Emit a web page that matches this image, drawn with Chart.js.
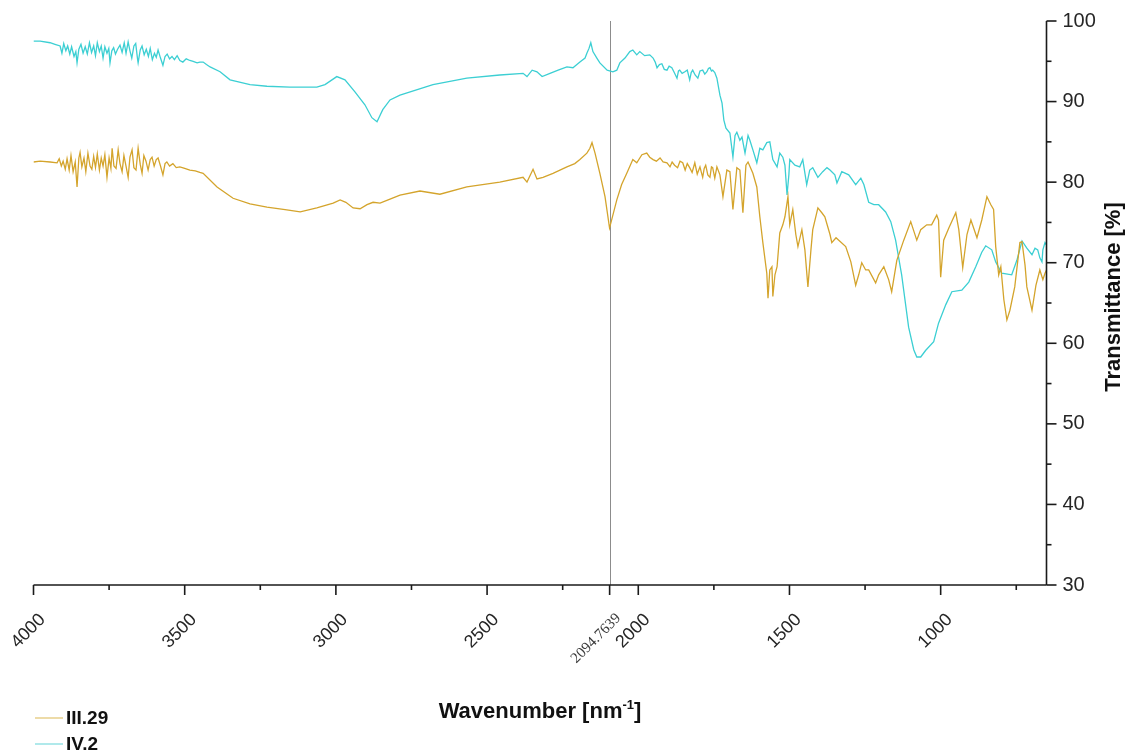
<!DOCTYPE html>
<html>
<head>
<meta charset="utf-8">
<title>FTIR spectra</title>
<script src="https://cdn.jsdelivr.net/npm/chart.js@4.4.1/dist/chart.umd.min.js"></script>
<style>
  html, body { margin: 0; padding: 0; background: #ffffff; }
  canvas { display: block; }
</style>
</head>
<body>
<canvas id="spectra" width="1126" height="756"></canvas>
<script>
// Sample III.29 (wavenumber, transmittance %)
const iiiWave = [4000,3978,3945,3922,3915,3908,3902,3895,3889,3882,3876,3869,3862,3856,3850,3846,3840,3833,3827,3820,3813,3807,3801,3795,3789,3782,3776,3770,3764,3757,3750,3744,3740,3734,3727,3720,3714,3707,3701,3694,3687,3681,3674,3668,3661,3654,3647,3641,3635,3628,3621,3614,3608,3601,3594,3588,3580,3572,3565,3559,3550,3539,3528,3516,3500,3483,3465,3450,3439,3393,3340,3284,3228,3168,3118,3063,3009,2986,2967,2943,2920,2897,2877,2854,2821,2788,2722,2656,2567,2458,2381,2368,2348,2335,2315,2282,2236,2210,2193,2170,2160,2153,2143,2127,2110,2095,2071,2055,2038,2018,2005,1988,1972,1962,1951,1940,1928,1918,1905,1895,1888,1880,1870,1862,1853,1845,1838,1830,1822,1813,1805,1796,1792,1787,1782,1777,1770,1763,1758,1754,1747,1740,1730,1720,1707,1697,1687,1674,1664,1654,1644,1637,1621,1608,1598,1588,1575,1571,1565,1558,1555,1548,1541,1532,1522,1515,1505,1499,1489,1479,1472,1459,1449,1439,1429,1423,1406,1393,1383,1366,1360,1346,1337,1314,1297,1281,1271,1261,1248,1238,1215,1205,1188,1172,1162,1145,1122,1099,1079,1066,1046,1030,1013,1007,1000,990,973,950,940,927,913,900,880,864,847,834,825,818,808,801,791,781,771,755,738,731,721,715,698,685,672,662,655,650];
const iiiT = [82.5,82.6,82.5,82.4,82.9,82.0,82.6,81.6,82.9,81.5,83.3,81.3,82.5,79.4,83.0,83.7,81.9,83.0,81.3,83.6,82.0,81.6,83.2,81.8,83.5,81.5,83.0,82.0,83.4,80.6,83.0,81.7,84.2,82.0,81.7,84.0,82.3,81.3,83.3,82.0,80.6,83.1,84.0,81.8,81.5,84.2,82.2,81.1,83.3,82.6,81.5,82.8,83.1,82.0,82.8,83.0,82.0,80.9,82.3,82.5,82.0,82.3,81.8,81.9,81.7,81.5,81.4,81.2,81.1,79.4,78.0,77.3,76.9,76.6,76.3,76.8,77.4,77.8,77.5,76.8,76.7,77.2,77.5,77.4,77.9,78.4,78.9,78.5,79.4,80.0,80.6,80.0,81.6,80.4,80.6,81.1,81.9,82.3,82.8,83.6,84.2,84.9,83.6,81.1,78.2,74.3,77.8,79.7,81.1,82.8,82.4,83.4,83.6,83.1,82.8,82.6,83.0,82.5,82.4,81.9,82.5,82.1,81.8,82.6,82.4,81.5,82.3,81.8,81.2,82.4,81.0,81.9,81.3,80.6,81.7,82.1,80.9,80.6,81.9,81.8,80.5,81.9,80.9,78.2,81.5,81.3,76.6,81.8,81.5,76.2,82.1,82.5,81.1,79.4,75.7,72.5,68.7,65.6,69.1,69.5,65.8,68.5,69.5,73.7,74.7,75.7,78.2,74.7,76.6,73.5,72.0,74.1,71.6,67.0,71.6,74.1,76.8,76.2,75.7,73.5,72.5,73.1,72.8,72.0,70.1,67.2,68.5,70.0,69.1,69.1,67.5,68.5,69.5,67.9,66.4,70.3,72.8,75.1,72.8,74.1,74.7,74.7,75.9,75.3,68.2,72.8,74.3,76.2,74.1,69.4,73.5,75.3,73.1,75.3,78.2,77.2,76.6,72.0,68.5,69.5,65.4,62.9,64.1,67.0,72.5,72.6,69.7,67.0,64.1,67.2,69.1,67.9,68.7,69.1];

// Sample IV.2 (wavenumber, transmittance %)
const ivWave = [4000,3978,3945,3929,3912,3906,3900,3893,3887,3880,3874,3866,3860,3856,3850,3843,3836,3829,3822,3815,3808,3801,3795,3789,3782,3776,3770,3764,3757,3751,3747,3741,3735,3729,3722,3714,3707,3700,3694,3687,3681,3675,3668,3662,3656,3654,3647,3641,3634,3627,3620,3614,3607,3600,3594,3588,3580,3572,3565,3558,3550,3542,3534,3525,3516,3506,3495,3483,3472,3459,3450,3439,3428,3416,3383,3350,3284,3228,3152,3063,3036,2997,2970,2937,2904,2881,2864,2845,2821,2788,2679,2567,2458,2381,2368,2351,2335,2318,2292,2265,2236,2216,2193,2176,2170,2163,2157,2150,2137,2127,2103,2084,2071,2061,2044,2028,2018,2005,1995,1979,1962,1951,1944,1938,1930,1922,1914,1905,1898,1889,1881,1872,1867,1863,1855,1846,1838,1830,1825,1820,1812,1803,1796,1787,1780,1773,1768,1763,1758,1754,1747,1740,1730,1723,1717,1710,1697,1687,1680,1674,1664,1657,1647,1637,1631,1621,1608,1598,1588,1575,1565,1555,1541,1532,1522,1515,1508,1502,1499,1482,1466,1456,1443,1433,1423,1406,1390,1376,1366,1350,1343,1327,1304,1281,1264,1254,1238,1221,1205,1182,1165,1149,1129,1106,1089,1079,1066,1050,1023,1007,983,963,930,907,884,864,851,831,818,798,765,748,731,715,698,688,679,672,665,662,655,650];
const ivT = [97.5,97.5,97.3,97.1,96.9,96.0,97.2,96.3,96.9,95.9,96.8,95.6,96.2,94.8,96.5,97.1,96.0,96.8,95.9,97.3,96.1,96.9,95.7,97.3,96.2,96.9,95.4,96.8,96.0,96.6,94.8,96.3,96.7,95.9,96.5,97.0,96.1,97.3,96.0,97.4,96.3,95.4,96.9,97.2,95.3,94.8,96.4,96.9,95.8,96.5,95.6,96.6,95.2,96.0,95.5,96.4,95.4,94.5,95.6,95.9,95.3,95.6,95.2,95.7,95.1,94.9,95.3,95.1,95.0,94.8,94.9,94.9,94.6,94.3,93.7,92.7,92.1,91.9,91.8,91.8,92.1,93.1,92.7,91.2,89.6,88.0,87.5,89.0,90.2,90.8,92.1,92.9,93.3,93.5,93.1,93.9,93.7,93.1,93.5,93.9,94.3,94.2,94.9,95.4,96.0,96.6,97.3,96.2,95.4,94.8,93.9,93.7,93.9,94.8,95.4,96.2,96.4,95.8,96.2,95.7,95.8,95.4,94.9,94.2,94.6,94.7,94.0,93.9,94.4,94.2,93.6,92.9,93.8,93.9,93.5,93.7,93.9,92.7,93.6,93.9,93.3,92.9,93.8,93.9,93.4,93.7,94.1,94.2,93.8,93.9,93.6,92.9,90.8,89.8,87.7,86.7,86.1,83.1,85.8,86.2,85.2,85.6,83.6,85.8,85.2,84.0,82.4,84.2,84.0,84.9,85.0,82.8,81.9,83.6,83.1,82.1,78.4,80.9,82.8,82.1,81.9,82.8,79.7,81.5,81.8,80.6,81.3,81.8,81.5,80.9,79.9,81.3,80.9,79.7,80.5,79.7,77.5,77.2,77.2,76.3,75.1,72.8,68.5,62.0,59.2,58.3,58.3,59.1,60.2,62.5,64.8,66.4,66.6,67.6,69.5,71.3,72.1,71.6,70.1,68.7,68.5,70.3,72.7,71.8,71.0,71.8,71.6,70.6,70.1,71.6,72.5,72.2];

// Axis ticks
const xMajorTicks = [4000, 3500, 3000, 2500, 2000, 1500, 1000];
const xMinorTicks = [3750, 3250, 2750, 2250, 1750, 1250, 750];
const yMajorTicks = [100, 90, 80, 70, 60, 50, 40, 30];
const yMinorTicks = [95, 85, 75, 65, 55, 45, 35];
const markerWave = 2094.7639;

const seriesNames = ['III.29', 'IV.2'];
const seriesColors = ['#d4a42c', '#3ccfd3'];
const legendColors = ['#e3c779', '#86dde0'];

function toPoints(xs, ys) {
  return xs.map((x, i) => ({ x: x, y: ys[i] }));
}

const LABEL_FONT = '"Liberation Sans", Arial, sans-serif';

const axesPlugin = {
  id: 'spectrumAxes',
  beforeDatasetsDraw(chart) {
    const { ctx, chartArea, scales } = chart;
    const mx = Math.round(scales.x.getPixelForValue(markerWave)) + 0.5;
    ctx.save();
    ctx.strokeStyle = '#8c8c8c';
    ctx.lineWidth = 1;
    ctx.beginPath();
    ctx.moveTo(mx, chartArea.top);
    ctx.lineTo(mx, chartArea.bottom);
    ctx.stroke();
    ctx.restore();
  },
  afterDraw(chart) {
    const { ctx, chartArea, scales } = chart;
    const xs = scales.x, ys = scales.y;
    const bottom = chartArea.bottom;
    const right = chartArea.right;
    ctx.save();
    ctx.strokeStyle = '#1a1a1a';
    ctx.lineWidth = 1.6;
    // bottom axis
    ctx.beginPath();
    ctx.moveTo(chartArea.left, bottom);
    ctx.lineTo(right, bottom);
    ctx.stroke();
    // right axis
    ctx.beginPath();
    ctx.moveTo(right, chartArea.top);
    ctx.lineTo(right, bottom);
    ctx.stroke();

    xMajorTicks.forEach(v => {
      const p = xs.getPixelForValue(v);
      ctx.beginPath(); ctx.moveTo(p, bottom); ctx.lineTo(p, bottom + 10); ctx.stroke();
    });
    xMinorTicks.forEach(v => {
      const p = xs.getPixelForValue(v);
      ctx.beginPath(); ctx.moveTo(p, bottom); ctx.lineTo(p, bottom + 5); ctx.stroke();
    });
    const mp = xs.getPixelForValue(markerWave);
    ctx.beginPath(); ctx.moveTo(mp, bottom); ctx.lineTo(mp, bottom + 10); ctx.stroke();

    yMajorTicks.forEach(v => {
      const p = ys.getPixelForValue(v);
      ctx.beginPath(); ctx.moveTo(right, p); ctx.lineTo(right + 10, p); ctx.stroke();
    });
    yMinorTicks.forEach(v => {
      const p = ys.getPixelForValue(v);
      ctx.beginPath(); ctx.moveTo(right, p); ctx.lineTo(right + 5, p); ctx.stroke();
    });

    // x tick labels, rotated
    ctx.fillStyle = '#262626';
    ctx.font = '18px ' + LABEL_FONT;
    ctx.textAlign = 'right';
    ctx.textBaseline = 'middle';
    xMajorTicks.forEach(v => {
      const p = xs.getPixelForValue(v);
      ctx.save();
      ctx.translate(p + 9, bottom + 32);
      ctx.rotate(-Math.PI / 4);
      ctx.fillText(String(v), 0, 0);
      ctx.restore();
    });
    // marker label
    ctx.save();
    ctx.fillStyle = '#3a3a3a';
    ctx.font = '15px "Liberation Serif", "Times New Roman", serif';
    ctx.translate(mp + 9, bottom + 31);
    ctx.rotate(-Math.PI / 4);
    ctx.fillText(String(markerWave), 0, 0);
    ctx.restore();

    // y tick labels
    ctx.font = '20px ' + LABEL_FONT;
    ctx.textAlign = 'left';
    ctx.textBaseline = 'middle';
    yMajorTicks.forEach(v => {
      const p = ys.getPixelForValue(v);
      ctx.fillText(String(v), right + 16, p);
    });

    // y title
    ctx.save();
    ctx.font = 'bold 22px ' + LABEL_FONT;
    ctx.fillStyle = '#111111';
    ctx.textAlign = 'center';
    ctx.textBaseline = 'middle';
    ctx.translate(right + 67, 297);
    ctx.rotate(-Math.PI / 2);
    ctx.fillText('Transmittance [%]', 0, 0);
    ctx.restore();

    // x title with superscript
    ctx.save();
    ctx.fillStyle = '#111111';
    ctx.textBaseline = 'alphabetic';
    ctx.textAlign = 'left';
    const mainFont = 'bold 22px ' + LABEL_FONT;
    const supFont = 'bold 13px ' + LABEL_FONT;
    const parts = [['Wavenumber [nm', mainFont, 0], ['-1', supFont, -9], [']', mainFont, 0]];
    let total = 0;
    parts.forEach(pt => { ctx.font = pt[1]; total += ctx.measureText(pt[0]).width; });
    let cx = (chartArea.left + right) / 2 - total / 2;
    const by = 718;
    parts.forEach(pt => {
      ctx.font = pt[1];
      ctx.fillText(pt[0], cx, by + pt[2]);
      cx += ctx.measureText(pt[0]).width;
    });
    ctx.restore();

    // legend
    ctx.save();
    chart.data.datasets.forEach((ds, i) => {
      const ly = 718 + i * 26;
      ctx.strokeStyle = legendColors[i];
      ctx.lineWidth = 1.3;
      ctx.beginPath();
      ctx.moveTo(35, ly); ctx.lineTo(63, ly);
      ctx.stroke();
      ctx.font = 'bold 19px ' + LABEL_FONT;
      ctx.fillStyle = '#111111';
      ctx.textAlign = 'left';
      ctx.textBaseline = 'middle';
      ctx.fillText(ds.label, 66, ly + 1);
    });
    ctx.restore();
    ctx.restore();
  }
};

new Chart(document.getElementById('spectra'), {
  type: 'scatter',
  data: {
    datasets: [
      {
        label: seriesNames[0],
        data: toPoints(iiiWave, iiiT),
        borderColor: seriesColors[0],
        backgroundColor: seriesColors[0],
        showLine: true,
        borderWidth: 1.3,
        pointRadius: 0,
        tension: 0
      },
      {
        label: seriesNames[1],
        data: toPoints(ivWave, ivT),
        borderColor: seriesColors[1],
        backgroundColor: seriesColors[1],
        showLine: true,
        borderWidth: 1.3,
        pointRadius: 0,
        tension: 0
      }
    ]
  },
  options: {
    responsive: false,
    animation: false,
    devicePixelRatio: 1,
    layout: { padding: { left: 33.5, right: 79.5, top: 21, bottom: 171 } },
    plugins: { legend: { display: false }, tooltip: { enabled: false } },
    scales: {
      x: { type: 'linear', reverse: true, min: 650, max: 4000, display: false },
      y: { type: 'linear', min: 30, max: 100, display: false }
    }
  },
  plugins: [axesPlugin]
});
</script>
</body>
</html>
